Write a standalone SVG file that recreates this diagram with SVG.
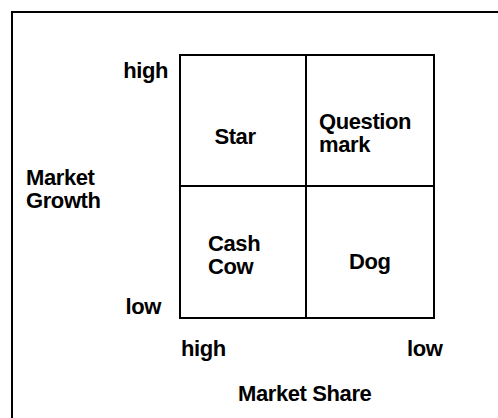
<svg xmlns="http://www.w3.org/2000/svg" width="498" height="418" viewBox="0 0 498 418">
<style>
.t{font-family:"Liberation Sans",Arial,sans-serif;font-weight:bold;font-size:22px;letter-spacing:-0.4px;fill:#000}
.ln{fill:none;stroke:#000;stroke-width:2}
</style>
<rect width="498" height="418" fill="#fff"/>
<path class="ln" d="M12,418 V12 H498" stroke-width="2.5"/>
<g id="axis-labels">
<text class="t" x="168" y="78" text-anchor="end">high</text>
<text class="t" x="161" y="314" text-anchor="end">low</text>
<text class="t" x="26" y="185">Market</text>
<text class="t" x="26" y="208">Growth</text>
<text class="t" x="181" y="356">high</text>
<text class="t" x="407" y="356">low</text>
<text class="t" x="238" y="401">Market Share</text>
</g>
<g id="star"><rect class="ln" x="180" y="55" width="126" height="131"/><text class="t" x="235" y="144" text-anchor="middle">Star</text></g>
<g id="question-mark"><rect class="ln" x="306" y="55" width="128" height="131"/><text class="t" x="319" y="129">Question</text><text class="t" x="319" y="152">mark</text></g>
<g id="cash-cow"><rect class="ln" x="180" y="186" width="126" height="132"/><text class="t" x="208" y="251">Cash</text><text class="t" x="208" y="274">Cow</text></g>
<g id="dog"><rect class="ln" x="306" y="186" width="128" height="132"/><text class="t" x="349" y="269">Dog</text></g>
<g id="connectors"></g>
</svg>
